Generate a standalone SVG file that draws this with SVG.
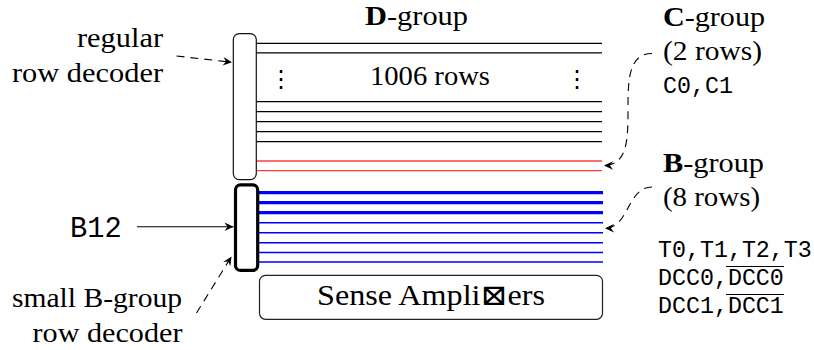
<svg xmlns="http://www.w3.org/2000/svg" width="814" height="350" viewBox="0 0 814 350">
<style>
.serif{font-family:'Liberation Serif','DejaVu Serif',serif;font-size:27px;fill:#000}
.mono{font-family:'Liberation Mono','DejaVu Sans Mono',monospace;font-size:23.3px;fill:#000}
.row{stroke:#000;stroke-width:1.2}
.red{stroke:#ff3b3b;stroke-width:1.3}
.bthick{stroke:#0000ff;stroke-width:3.2}
.bthin{stroke:#0000ff;stroke-width:1.4}
.conn{fill:none;stroke:#000;stroke-width:1.1}
.dash{stroke-dasharray:8 6}
.dots{font-family:'DejaVu Sans',sans-serif;font-size:24px;fill:#000}
</style>
<defs>
<marker id="ah" viewBox="-10 -6 12 12" refX="0" refY="0" markerWidth="12" markerHeight="12" orient="auto" markerUnits="userSpaceOnUse">
<path d="M0,0 L-9,-4.2 L-6,0 L-9,4.2 Z" fill="#000"/>
</marker>
</defs>
<rect width="814" height="350" fill="#fff"/>

<g id="d-group">
<text class="serif" x="416.5" y="25" text-anchor="middle" textLength="103" lengthAdjust="spacingAndGlyphs"><tspan font-weight="bold">D</tspan>-group</text>
<line class="row" x1="256.5" y1="43.3" x2="602" y2="43.3"/>
<line class="row" x1="256.5" y1="52.8" x2="602" y2="52.8"/>
<text class="dots" x="281" y="87" text-anchor="middle">⋮</text>
<text class="serif" x="430" y="85" text-anchor="middle" textLength="120" lengthAdjust="spacingAndGlyphs">1006 rows</text>
<text class="dots" x="577" y="87" text-anchor="middle">⋮</text>
<line class="row" x1="256.5" y1="101.7" x2="602" y2="101.7"/>
<line class="row" x1="256.5" y1="111.7" x2="602" y2="111.7"/>
<line class="row" x1="256.5" y1="121.7" x2="602" y2="121.7"/>
<line class="row" x1="256.5" y1="131.7" x2="602" y2="131.7"/>
<line class="row" x1="256.5" y1="141.7" x2="602" y2="141.7"/>
</g>

<g id="c-group">
<line class="red" x1="256.5" y1="161" x2="602" y2="161"/>
<line class="red" x1="256.5" y1="170.7" x2="602" y2="170.7"/>
<text class="serif" x="663" y="26" textLength="102" lengthAdjust="spacingAndGlyphs"><tspan font-weight="bold">C</tspan>-group</text>
<text class="serif" x="663" y="59.5" textLength="99" lengthAdjust="spacingAndGlyphs">(2 rows)</text>
<text class="mono" x="663" y="93">C0,C1</text>
</g>

<g id="b-group">
<line class="bthick" x1="259" y1="192.7" x2="603" y2="192.7"/>
<line class="bthick" x1="259" y1="202.7" x2="603" y2="202.7"/>
<line class="bthick" x1="259" y1="212.7" x2="603" y2="212.7"/>
<line class="bthin" x1="259" y1="222.7" x2="603" y2="222.7"/>
<line class="bthin" x1="259" y1="232.7" x2="603" y2="232.7"/>
<line class="bthin" x1="259" y1="242.7" x2="603" y2="242.7"/>
<line class="bthin" x1="259" y1="252.5" x2="603" y2="252.5"/>
<line class="bthin" x1="259" y1="262" x2="603" y2="262"/>
<text class="serif" x="663" y="172" textLength="101" lengthAdjust="spacingAndGlyphs"><tspan font-weight="bold">B</tspan>-group</text>
<text class="serif" x="663" y="206" textLength="97" lengthAdjust="spacingAndGlyphs">(8 rows)</text>
<text class="mono" x="658" y="257">T0,T1,T2,T3</text>
<text class="mono" x="658" y="285">DCC0,DCC0</text>
<line class="row" x1="726" y1="266.5" x2="784" y2="266.5"/>
<text class="mono" x="658" y="313">DCC1,DCC1</text>
<line class="row" x1="726" y1="294.5" x2="784" y2="294.5"/>
</g>

<g id="regular-decoder">
<rect x="233.3" y="33.6" width="23" height="146" rx="6" fill="#fff" stroke="#111" stroke-width="1.2"/>
<text class="serif" x="163" y="46.5" text-anchor="end" textLength="86" lengthAdjust="spacingAndGlyphs">regular</text>
<text class="serif" x="163" y="82" text-anchor="end" textLength="151" lengthAdjust="spacingAndGlyphs">row decoder</text>
</g>

<g id="small-decoder">
<rect x="235.5" y="184.8" width="22.2" height="85.6" rx="5" fill="#fff" stroke="#000" stroke-width="3.2"/>
<text class="serif" x="182" y="307" text-anchor="end" textLength="170" lengthAdjust="spacingAndGlyphs">small B-group</text>
<text class="serif" x="182.5" y="342" text-anchor="end" textLength="150" lengthAdjust="spacingAndGlyphs">row decoder</text>
</g>

<g id="b12">
<text class="mono" x="70" y="237" style="font-size:28.7px">B12</text>
</g>

<g id="sense-amplifiers">
<rect x="259.5" y="275.3" width="343" height="44" rx="6" fill="#fff" stroke="#222" stroke-width="1.2"/>
<text class="serif" x="431" y="305" text-anchor="middle" style="font-size:29px" textLength="228" lengthAdjust="spacingAndGlyphs">Sense Ampli⊠ers</text>
</g>

<g id="connectors">
<path class="conn dash" d="M176.5,56 L232,62.3" marker-end="url(#ah)"/>
<path class="conn" d="M137,226.7 L233.5,226.7" marker-end="url(#ah)"/>
<path class="conn dash" d="M196.5,313 L231.5,256.5" marker-end="url(#ah)"/>
<path class="conn dash" d="M652,53.5 C604,53.5 652,165.5 604,165.5" marker-end="url(#ah)"/>
<path class="conn dash" d="M652,187 C627,187 629,228.3 605,228.3" marker-end="url(#ah)"/>
</g>
</svg>
